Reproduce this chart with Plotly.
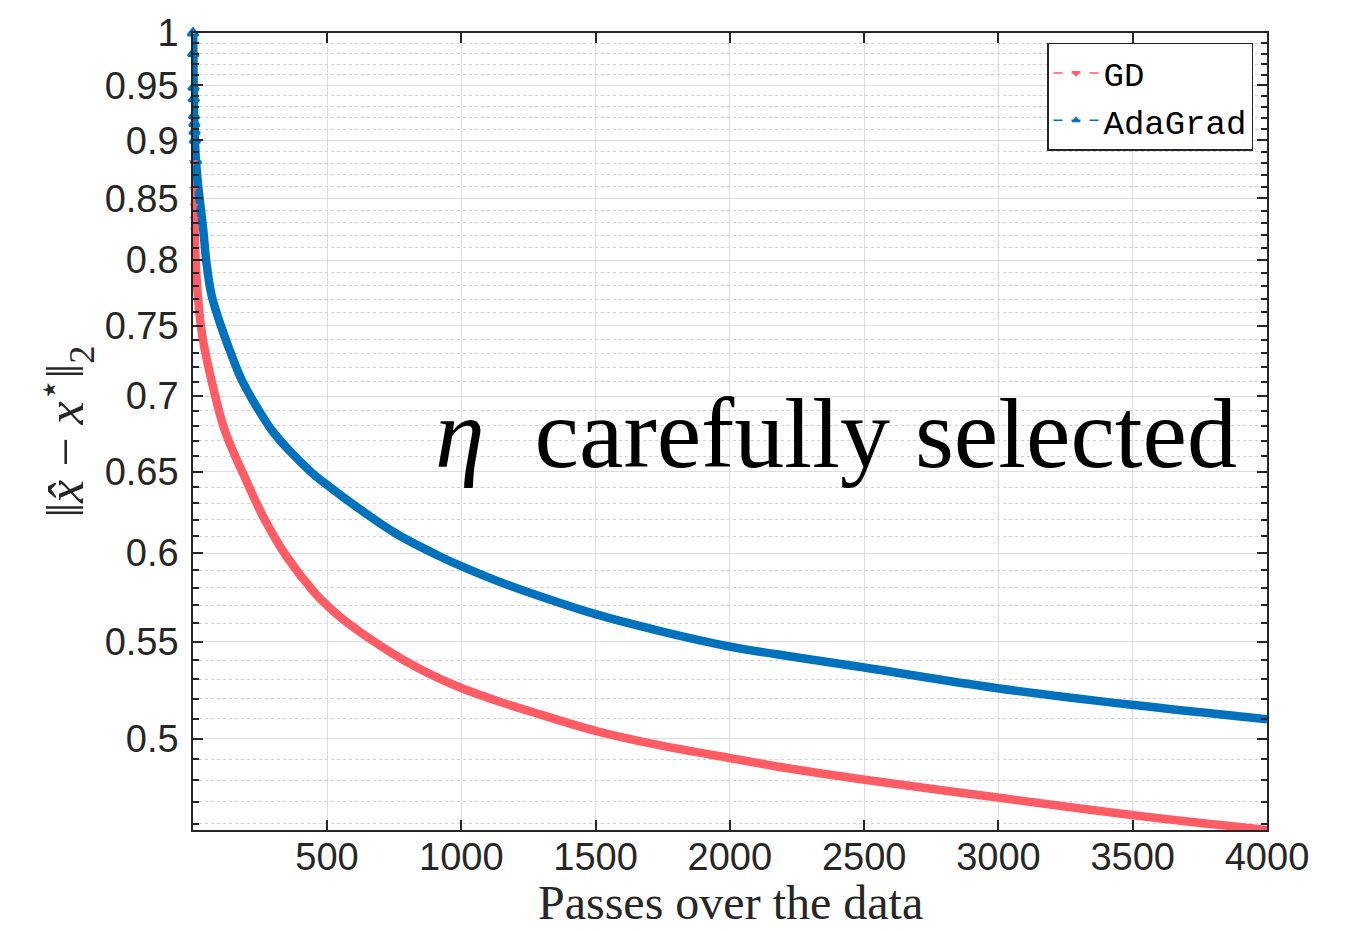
import plotly.graph_objects as go
import numpy as np

# ---- data ----
gd_iter = [1, 2, 3, 4, 5, 6, 7, 10, 15, 35, 71, 121, 200, 265, 345, 457, 500, 574, 740,
           830, 917, 1000, 1140, 1290, 1496, 1737, 1998, 2234, 2482, 2997, 3496, 4000]
gd_err = [1.0, 0.919, 0.881, 0.858, 0.844, 0.833, 0.824, 0.805, 0.783, 0.7434, 0.710,
          0.676, 0.644, 0.621, 0.599, 0.5765, 0.570, 0.5605, 0.544, 0.5366, 0.5305,
          0.5255, 0.5186, 0.5122, 0.5040, 0.4968, 0.4906, 0.4853, 0.4806, 0.4719,
          0.4639, 0.4571]

ada_iter = [1, 2, 3, 4, 5, 6, 7, 8, 12, 19, 40, 50, 70, 105, 150, 183, 221, 294, 360, 444,
            500, 581, 755, 917, 1004, 1140, 1290, 1496, 1737, 1998, 2234, 2482, 2997, 3496,
            4000]
ada_err = [1.0, 0.98, 0.948, 0.9375, 0.922, 0.915, 0.908, 0.900, 0.882, 0.8635, 0.8225,
           0.800, 0.773, 0.750, 0.726, 0.711, 0.698, 0.677, 0.6635, 0.6492, 0.6415,
           0.6313, 0.6118, 0.5983, 0.5920, 0.5834, 0.5752, 0.5652, 0.5559, 0.5474,
           0.5419, 0.5366, 0.5254, 0.5169, 0.5096]

x_ticks = [500, 1000, 1500, 2000, 2500, 3000, 3500, 4000]
y_ticks = [0.5, 0.55, 0.6, 0.65, 0.7, 0.75, 0.8, 0.85, 0.9, 0.95, 1.0]
y_ticktext = ["0.5", "0.55", "0.6", "0.65", "0.7", "0.75", "0.8", "0.85", "0.9", "0.95", "1"]
y_minor = [round(0.46 + 0.01 * i, 2) for i in range(54)]
y_minor = [v for v in y_minor if round(v * 100) % 5 != 0]

RED = "#FF5C66"
BLUE = "#0072BD"
AX = "#262626"
n_mark_gd = 7
n_mark_ada = 9

fig = go.Figure()

# thick bands (dense markers in original)
fig.add_trace(go.Scatter(x=gd_iter, y=gd_err, mode="lines",
                         line=dict(color=RED, width=8.5, shape="spline", smoothing=1.0),
                         showlegend=False))
fig.add_trace(go.Scatter(x=ada_iter, y=ada_err, mode="lines",
                         line=dict(color=BLUE, width=8.5, shape="spline", smoothing=1.0),
                         showlegend=False))
# early individual markers
fig.add_trace(go.Scatter(x=gd_iter[:n_mark_gd], y=gd_err[:n_mark_gd], mode="markers",
                         marker=dict(symbol="triangle-down", size=8, color=RED),
                         cliponaxis=False, showlegend=False))
fig.add_trace(go.Scatter(x=ada_iter[:n_mark_ada], y=ada_err[:n_mark_ada], mode="markers",
                         marker=dict(symbol="triangle-up-open", size=9, color=BLUE,
                                     line=dict(width=2.5)),
                         cliponaxis=False, showlegend=False))
# legend entries
fig.add_trace(go.Scatter(x=[None], y=[None], mode="lines+markers", name="GD",
                         line=dict(color=RED, width=1.5, dash="dash"),
                         marker=dict(symbol="triangle-down", size=8, color=RED)))
fig.add_trace(go.Scatter(x=[None], y=[None], mode="lines+markers", name="AdaGrad",
                         line=dict(color=BLUE, width=1.5, dash="dash"),
                         marker=dict(symbol="triangle-up", size=8, color=BLUE)))

tickfont = dict(family="Liberation Sans, Arial", size=38, color=AX)

fig.update_xaxes(
    range=[1, 4000], tickmode="array", tickvals=x_ticks,
    ticks="inside", ticklen=10, tickwidth=1.5, tickcolor=AX,
    showline=True, linecolor=AX, linewidth=1.5, mirror="allticks",
    showgrid=True, gridcolor="#DEDEDE", gridwidth=1,
    tickfont=tickfont, zeroline=False, ticklabelstandoff=-7,
)
fig.update_yaxes(
    type="log", range=[np.log10(min(gd_err)), 0],
    tickmode="array", tickvals=y_ticks, ticktext=y_ticktext,
    ticks="inside", ticklen=10, tickwidth=1.5, tickcolor=AX,
    showline=True, linecolor=AX, linewidth=1.5, mirror="allticks",
    showgrid=True, gridcolor="#DEDEDE", gridwidth=1,
    minor=dict(tickmode="array", tickvals=y_minor, ticks="inside", ticklen=6,
               tickwidth=1.5, tickcolor=AX, showgrid=True, gridcolor="#D2D2D2",
               griddash="dot", gridwidth=1),
    tickfont=tickfont, zeroline=False, ticklabelstandoff=5,
)

fig.add_annotation(text="<i>η</i>  carefully selected", xref="paper", yref="paper",
                   x=(1239 - 193) / 1074, y=1 - (432 - 30) / 800,
                   xanchor="right", yanchor="middle", showarrow=False,
                   font=dict(family="Liberation Serif, Times New Roman", size=100,
                             color="black"))
fig.add_annotation(text="Passes over the data", xref="paper", yref="paper",
                   x=0.5, y=-(903 - 830) / 800, xanchor="center", yanchor="middle",
                   showarrow=False,
                   font=dict(family="Liberation Serif, Times New Roman", size=48,
                             color=AX))
fig.add_annotation(text="‖<i>x̂</i> − <i>x</i><sup>⋆</sup>‖<sub>2</sub>",
                   xref="paper", yref="paper",
                   x=(66 - 193) / 1074, y=1 - (430 - 30) / 800,
                   xanchor="center", yanchor="middle", textangle=-90, showarrow=False,
                   font=dict(family="Liberation Serif, Times New Roman", size=52,
                             color=AX))

fig.update_layout(
    width=1358, height=931,
    margin=dict(l=193, r=91, t=30, b=101),
    plot_bgcolor="white", paper_bgcolor="white",
    legend=dict(x=(1253 - 193) / 1074, y=1 - (40 - 30) / 800,
                xanchor="right", yanchor="top",
                bgcolor="white", bordercolor=AX, borderwidth=1.5,
                font=dict(family="Liberation Mono, Courier New", size=34, color="black"),
                tracegroupgap=0, itemwidth=45),
)

fig.write_html("out.html")
